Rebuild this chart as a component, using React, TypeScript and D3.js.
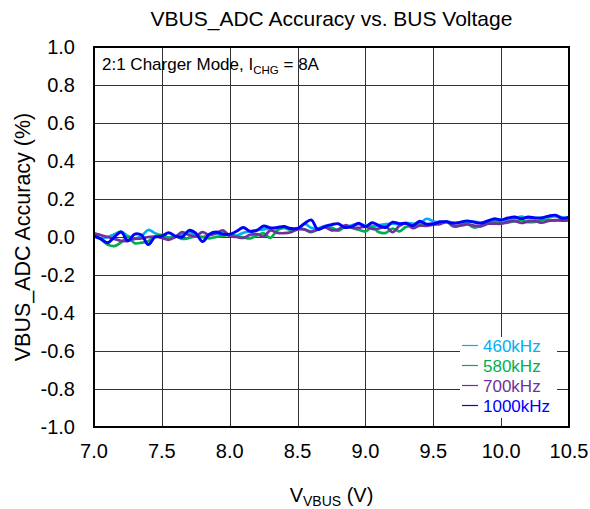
import React from "react";
import * as d3 from "d3";

// Bus voltage sweep (V), 0.05 V steps
const VBUS: number[] = d3.range(0, 71).map((i) => +(7 + i * 0.05).toFixed(2));

// VBUS_ADC accuracy (%) per switching frequency
const ACC_460K = [
  0.002, -0.007, 0.0, 0.014, 0.028, 0.005, -0.007, 0.005, 0.037, 0.02,
  0.008, -0.003, 0.004, 0.011, 0.025, 0.005, 0.0, 0.012, 0.016, 0.02,
  0.012, 0.008, 0.022, 0.03, 0.037, 0.04, 0.046, 0.045, 0.049, 0.043,
  0.04, 0.07, 0.048, 0.045, 0.058, 0.05, 0.037, 0.052, 0.062, 0.068,
  0.06, 0.056, 0.063, 0.068, 0.07, 0.067, 0.074, 0.07, 0.07, 0.096,
  0.083, 0.076, 0.08, 0.076, 0.072, 0.077, 0.081, 0.077, 0.08, 0.097,
  0.09, 0.086, 0.098, 0.108, 0.098, 0.1, 0.102, 0.106, 0.108, 0.104,
  0.1,
];
const ACC_580K = [
  0.014, -0.012, -0.04, -0.048, -0.028, 0.0, -0.033, -0.03, -0.022, 0.002,
  0.011, -0.005, 0.004, -0.01, -0.005, 0.003, 0.0, -0.007, 0.0, 0.006,
  0.011, 0.004, -0.002, -0.007, 0.008, 0.019, -0.005, 0.035, 0.048, 0.037,
  0.046, 0.04, 0.025, 0.04, 0.052, 0.047, 0.033, 0.055, 0.048, 0.038,
  0.03, 0.052, 0.025, 0.022, 0.044, 0.03, 0.054, 0.058, 0.066, 0.064,
  0.066, 0.075, 0.08, 0.055, 0.062, 0.07, 0.05, 0.058, 0.07, 0.081,
  0.075, 0.076, 0.083, 0.089, 0.078, 0.08, 0.089, 0.092, 0.086, 0.095,
  0.098,
];
const ACC_700K = [
  0.02, 0.01, 0.0, -0.01, -0.02, -0.02, -0.01, -0.008, 0.0, 0.002,
  -0.005, -0.015, 0.0, 0.026, 0.01, 0.005, 0.026, 0.01, 0.02, 0.035,
  0.005, 0.0, -0.005, 0.012, 0.015, 0.003, 0.035, 0.022, 0.02, 0.025,
  0.04, 0.04, 0.028, 0.04, 0.052, 0.035, 0.04, 0.062, 0.05, 0.048,
  0.054, 0.042, 0.045, 0.055, 0.025, 0.058, 0.072, 0.046, 0.06, 0.058,
  0.065, 0.068, 0.08, 0.058, 0.06, 0.066, 0.06, 0.056, 0.07, 0.07,
  0.07, 0.08, 0.084, 0.074, 0.082, 0.084, 0.075, 0.085, 0.089, 0.086,
  0.088,
];
const ACC_1000K = [
  0.005, -0.01, -0.03, 0.0, 0.026, -0.02, 0.015, 0.01, -0.04, 0.0,
  0.005, 0.022, 0.005, 0.0, 0.035, 0.02, -0.024, 0.015, 0.026, 0.015,
  0.015, 0.03, 0.05, 0.03, 0.035, 0.058, 0.048, 0.05, 0.055, 0.045,
  0.045, 0.07, 0.09, 0.04, 0.055, 0.065, 0.07, 0.05, 0.055, 0.072,
  0.055, 0.075, 0.06, 0.05, 0.078, 0.07, 0.072, 0.06, 0.083, 0.068,
  0.07, 0.08, 0.08, 0.072, 0.078, 0.085, 0.078, 0.072, 0.085, 0.095,
  0.09, 0.1, 0.105, 0.097, 0.105, 0.1, 0.1, 0.11, 0.115, 0.098,
  0.105,
];

const SERIES_NAMES = ["460kHz", "580kHz", "700kHz", "1000kHz"];
const SERIES_VALUES = [ACC_460K, ACC_580K, ACC_700K, ACC_1000K];
const SERIES_COLORS = ["#00B0F0", "#00B050", "#7030A0", "#0000FF"];

const X_TICKS = [7.0, 7.5, 8.0, 8.5, 9.0, 9.5, 10.0, 10.5];
const Y_TICKS = [-1.0, -0.8, -0.6, -0.4, -0.2, 0.0, 0.2, 0.4, 0.6, 0.8, 1.0];

const W = 590;
const H = 509;
const M = { left: 94, top: 47, right: 21, bottom: 82 };
const FONT = "Liberation Sans, Arial, Helvetica, sans-serif";

export default function App() {
  const x = d3.scaleLinear().domain([7.0, 10.5]).range([M.left, W - M.right]);
  const y = d3.scaleLinear().domain([-1.0, 1.0]).range([H - M.bottom, M.top]);
  const px = (v: number) => Math.round(v) + 0.5;

  const line = d3
    .line<[number, number]>()
    .x((d) => x(d[0]))
    .y((d) => y(d[1]))
    .curve(d3.curveCatmullRom.alpha(0.5));

  const [x0, x1] = x.range();
  const [y0, y1] = y.range();

  const legendX = 462;
  const legendRows = [351.5, 371.5, 391.5, 411.5];

  return (
    <svg
      width={W}
      height={H}
      style={{ position: "absolute", left: 0, top: 0, background: "#fff" }}
      fontFamily={FONT}
    >
      <rect x={0} y={0} width={W} height={H} fill="#fff" />
      <defs>
        <clipPath id="plot-clip">
          <rect x={x0} y={y1} width={x1 - x0} height={y0 - y1} />
        </clipPath>
      </defs>

      {/* grid */}
      <g stroke="#333" strokeWidth={1}>
        {X_TICKS.map((t) => (
          <line key={"gx" + t} x1={px(x(t))} x2={px(x(t))} y1={y1} y2={y0} />
        ))}
        {Y_TICKS.map((t) => (
          <line key={"gy" + t} x1={x0} x2={x1} y1={px(y(t))} y2={px(y(t))} />
        ))}
      </g>

      {/* legend background sits over the grid */}
      <rect x={460} y={337} width={97} height={81} fill="#fff" />

      {/* data */}
      <g clipPath="url(#plot-clip)" fill="none" strokeLinejoin="round" strokeLinecap="round">
        {SERIES_VALUES.map((vals, i) => (
          <path
            key={SERIES_NAMES[i]}
            d={line(VBUS.map((v, j) => [v, vals[j]] as [number, number])) || ""}
            stroke={SERIES_COLORS[i]}
            strokeWidth={i === 3 ? 2.9 : 2.7}
          />
        ))}
      </g>

      {/* plot frame */}
      <rect
        x={x0}
        y={y1}
        width={x1 - x0}
        height={y0 - y1}
        fill="none"
        stroke="#000"
        strokeWidth={2}
      />

      {/* tick labels */}
      <g fontSize={20} fill="#000">
        {X_TICKS.map((t) => (
          <text key={"lx" + t} x={x(t)} y={y0 + 31} textAnchor="middle">
            {t.toFixed(1)}
          </text>
        ))}
        {Y_TICKS.map((t) => (
          <text key={"ly" + t} x={x0 - 19} y={y(t) + 7} textAnchor="end">
            {t.toFixed(1)}
          </text>
        ))}
      </g>

      {/* title */}
      <text x={(x0 + x1) / 2} y={26} textAnchor="middle" fontSize={21} fill="#000">
        VBUS_ADC Accuracy vs. BUS Voltage
      </text>

      {/* axis titles */}
      <text x={(x0 + x1) / 2} y={502} textAnchor="middle" fontSize={20} fill="#000">
        V
        <tspan fontSize={14} dy={4}>VBUS</tspan>
        <tspan dy={-4}> (V)</tspan>
      </text>
      <text
        transform={`translate(30, ${(y0 + y1) / 2}) rotate(-90)`}
        textAnchor="middle"
        fontSize={21.5}
        fill="#000"
      >
        VBUS_ADC Accuracy (%)
      </text>

      {/* condition note */}
      <text x={102} y={70} fontSize={17} fill="#000">
        2:1 Charger Mode, I
        <tspan fontSize={11.5} dy={4}>CHG</tspan>
        <tspan dy={-4}> = 8A</tspan>
      </text>

      {/* legend */}
      <g fontSize={17}>
        {SERIES_NAMES.map((name, i) => (
          <g key={"lg" + name}>
            <line
              x1={legendX}
              x2={legendX + 16}
              y1={legendRows[i] - 6}
              y2={legendRows[i] - 6}
              stroke={SERIES_COLORS[i]}
              strokeWidth={1.2}
            />
            <text x={legendX + 21} y={legendRows[i]} fill={SERIES_COLORS[i]}>
              {name}
            </text>
          </g>
        ))}
      </g>
    </svg>
  );
}
